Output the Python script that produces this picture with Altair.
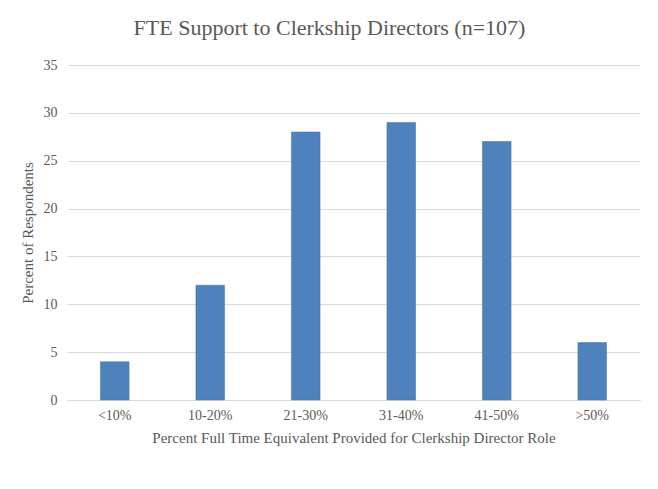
import altair as alt
import pandas as pd

categories = ["<10%", "10-20%", "21-30%", "31-40%", "41-50%", ">50%"]
values = [4, 12, 28, 29, 27, 6]

df = pd.DataFrame({"cat": categories, "val": values})

FONT = "Liberation Serif"
GRAY = "#595959"

chart = alt.Chart(df).mark_bar(color="#4f81bd", stroke="#4573aa", strokeWidth=0.5).encode(
    x=alt.X("cat:N", sort=categories,
            scale=alt.Scale(paddingInner=0.7, paddingOuter=0.35),
            axis=alt.Axis(title="Percent Full Time Equivalent Provided for Clerkship Director Role",
                          labelAngle=0, ticks=False, domainColor="#d9d9d9", domainWidth=1,
                          labelPadding=8, titlePadding=8)),
    y=alt.Y("val:Q", scale=alt.Scale(domain=[0, 35]),
            axis=alt.Axis(title="Percent of Respondents", values=[0, 5, 10, 15, 20, 25, 30, 35],
                          ticks=False, domain=False, gridColor="#d9d9d9",
                          labelPadding=10, titlePadding=8)),
).properties(
    width=573, height=335,
    title=alt.TitleParams("FTE Support to Clerkship Directors (n=107)", fontSize=22,
                          font=FONT, color=GRAY, fontWeight="normal", offset=18, dx=-24),
    autosize=alt.AutoSizeParams(type="none"),
    padding={"left": 59, "top": 57, "right": 10, "bottom": 70},
).configure_axis(
    labelFont=FONT, titleFont=FONT, labelColor=GRAY, titleColor=GRAY,
    labelFontSize=14, titleFontSize=15, titleFontWeight="normal",
).configure_view(stroke=None)

chart.save("out.html", embed_options={"renderer": "svg", "actions": False})
